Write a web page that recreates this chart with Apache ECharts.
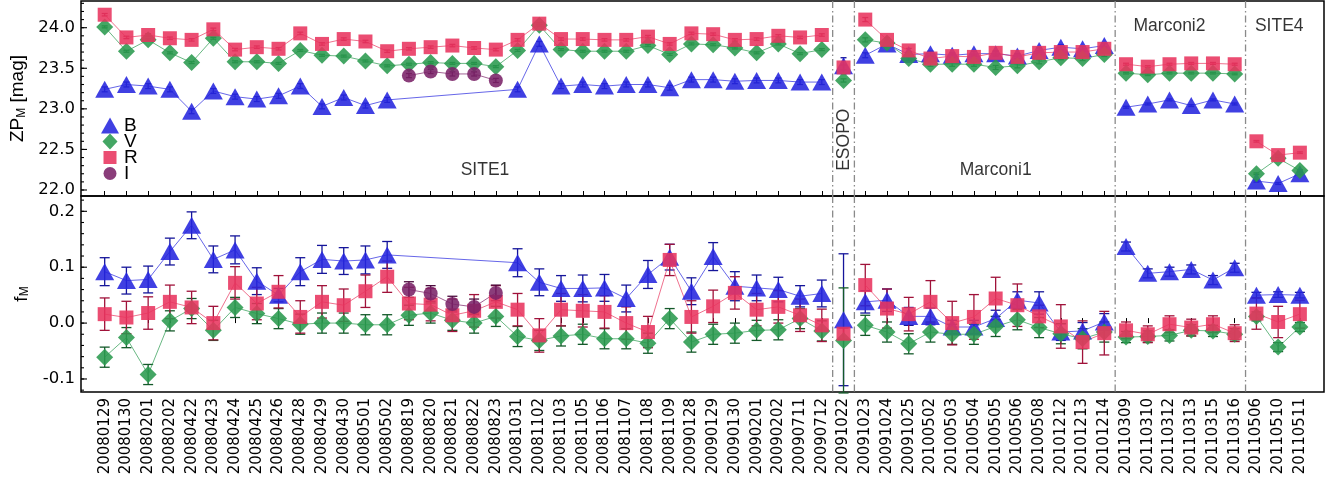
<!DOCTYPE html>
<html>
<head>
<meta charset="utf-8">
<script src="https://cdn.jsdelivr.net/npm/echarts@6.0.0/dist/echarts.min.js"></script>
<style>
html,body{margin:0;padding:0;background:#fff;}
#chart{width:1336px;height:485px;}
</style>
</head>
<body>
<div id="chart"></div>
<script>
// observing nights, one per column
const dates = ['20080129','20080130','20080201','20080202','20080422','20080423','20080424','20080425','20080426','20080428',
  '20080429','20080430','20080501','20080502','20080819','20080820','20080821','20080822','20080823','20081031',
  '20081102','20081103','20081105','20081106','20081107','20081108','20081109','20090128','20090129','20090130',
  '20090201','20090202','20090711','20090712','20091022','20091023','20091024','20091025','20100502','20100503',
  '20100504','20100505','20100506','20100508','20101212','20101213','20101214','20110309','20110310','20110312',
  '20110313','20110315','20110316','20110506','20110510','20110511'];
// first/last column of each site
const segments = [[0,33],[34,34],[35,46],[47,52],[53,55]];
const zpTicks = [22.0,22.5,23.0,23.5,24.0];
const fTicks = [-0.1,0.0,0.1,0.2];
const nulls = n => new Array(n).fill(null);

// ZP_M [mag]
const zpB = [23.24,23.30,23.28,23.24,22.97,23.22,23.15,23.12,23.16,23.28,23.03,23.14,23.04,23.11,null,null,null,null,null,
  23.24,23.80,23.28,23.30,23.28,23.30,23.30,23.26,23.36,23.36,23.34,23.35,23.35,23.33,23.33,
  23.53,
  23.66,23.80,23.67,23.68,23.66,23.68,23.68,23.65,23.72,23.76,23.74,23.78,
  23.02,23.06,23.11,23.04,23.11,23.06,
  22.11,22.08,22.20];
const zpBErr = [0.03,0.03,0.03,0.03,0.03,0.03,0.03,0.03,0.03,0.03,0.03,0.03,0.03,0.03,null,null,null,null,null,
  0.03,0.03,0.03,0.03,0.03,0.03,0.03,0.03,0.03,0.03,0.03,0.03,0.03,0.03,0.03,
  0.10,
  0.03,0.03,0.03,0.03,0.03,0.03,0.03,0.03,0.03,0.03,0.03,0.03,
  0.012,0.012,0.012,0.012,0.012,0.012,
  0.012,0.012,0.012];
const zpV = [24.01,23.71,23.85,23.69,23.57,23.87,23.58,23.58,23.56,23.72,23.66,23.65,23.59,23.53,23.55,23.57,23.56,23.56,23.52,
  23.72,24.03,23.73,23.71,23.71,23.71,23.78,23.67,23.80,23.79,23.75,23.69,23.80,23.68,23.73,
  23.35,
  23.85,23.81,23.62,23.55,23.55,23.55,23.51,23.53,23.58,23.63,23.62,23.67,
  23.44,23.42,23.44,23.44,23.44,23.43,
  22.20,22.39,22.24];
const zpVErr = [0.012,0.012,0.012,0.012,0.012,0.012,0.012,0.012,0.012,0.012,0.012,0.012,0.012,0.012,0.012,0.012,0.012,0.012,0.012,
  0.012,0.012,0.012,0.012,0.012,0.012,0.012,0.012,0.012,0.012,0.012,0.012,0.012,0.012,0.012,
  0.02,
  0.025,0.025,0.025,0.025,0.025,0.025,0.025,0.025,0.025,0.025,0.025,0.025,
  0.01,0.01,0.01,0.01,0.01,0.01,
  0.01,0.01,0.01];
const zpR = [24.16,23.88,23.91,23.87,23.85,23.98,23.73,23.76,23.74,23.93,23.80,23.86,23.83,23.71,23.74,23.76,23.78,23.75,23.73,
  23.85,24.05,23.86,23.86,23.85,23.85,23.89,23.80,23.93,23.92,23.85,23.86,23.90,23.88,23.91,
  23.51,
  24.10,23.85,23.72,23.62,23.65,23.64,23.69,23.64,23.69,23.70,23.70,23.74,
  23.55,23.52,23.55,23.56,23.56,23.55,
  22.60,22.43,22.46];
const zpRErr = [0.015,0.015,0.015,0.015,0.015,0.015,0.015,0.015,0.015,0.015,0.015,0.015,0.015,0.015,0.015,0.015,0.015,0.015,0.015,
  0.015,0.015,0.015,0.015,0.015,0.015,0.015,0.015,0.015,0.015,0.015,0.015,0.015,0.015,0.015,
  0.03,
  0.025,0.025,0.025,0.025,0.025,0.025,0.025,0.025,0.025,0.025,0.025,0.025,
  0.012,0.012,0.012,0.012,0.012,0.012,
  0.01,0.01,0.01];
const zpI = [...nulls(14), 23.41,23.46,23.43,23.43,23.35, ...nulls(37)];
const zpIErr = [...nulls(14), 0.025,0.025,0.025,0.025,0.025, ...nulls(37)];

// f_M
const fB = [0.092,0.076,0.078,0.128,0.175,0.114,0.131,0.075,0.050,0.092,0.114,0.111,0.113,0.122,null,null,null,null,null,
  0.108,0.073,0.062,0.062,0.063,0.044,0.087,0.118,0.057,0.119,0.066,0.063,0.060,0.048,0.053,
  0.006,
  0.038,0.041,0.012,0.012,-0.007,-0.007,0.008,0.041,0.036,-0.016,-0.014,0.002,
  0.137,0.089,0.092,0.096,0.077,0.099,
  0.050,0.051,0.050];
const fBErr = [0.025,0.024,0.024,0.024,0.024,0.024,0.025,0.024,0.012,0.025,0.025,0.024,0.025,0.024,null,null,null,null,null,
  0.025,0.024,0.023,0.024,0.024,0.024,0.025,0.023,0.024,0.025,0.026,0.023,0.022,0.019,0.024,
  0.118,
  0.020,0.020,0.016,0.015,0.012,0.012,0.015,0.015,0.020,0.015,0.015,0.015,
  0.008,0.008,0.008,0.008,0.008,0.008,
  0.005,0.005,0.005];
const fV = [-0.061,-0.026,-0.092,0.004,0.026,-0.013,0.028,0.017,0.008,-0.002,0.000,0.000,-0.003,-0.003,0.014,0.018,0.005,0.000,0.012,
  -0.024,-0.031,-0.023,-0.020,-0.028,-0.028,-0.036,0.008,-0.034,-0.020,-0.018,-0.013,-0.012,0.008,-0.014,
  -0.031,
  -0.004,-0.016,-0.037,-0.016,-0.020,-0.020,-0.006,0.006,-0.008,-0.019,-0.028,-0.016,
  -0.025,-0.024,-0.022,-0.013,-0.014,-0.020,
  0.012,-0.043,-0.007];
const fVErr = [0.018,0.018,0.018,0.018,0.018,0.018,0.018,0.018,0.018,0.018,0.018,0.018,0.018,0.018,0.018,0.018,0.018,0.018,0.018,
  0.018,0.018,0.018,0.018,0.018,0.018,0.018,0.018,0.018,0.018,0.018,0.018,0.018,0.018,0.018,
  0.094,
  0.018,0.018,0.018,0.018,0.018,0.018,0.018,0.018,0.018,0.018,0.018,0.018,
  0.010,0.010,0.010,0.010,0.010,0.010,
  0.008,0.008,0.008];
const fR = [0.016,0.010,0.018,0.038,0.028,0.000,0.072,0.035,0.056,0.011,0.038,0.032,0.057,0.083,0.035,0.033,0.014,0.022,0.038,
  0.024,-0.022,0.024,0.022,0.020,0.000,-0.016,0.113,0.011,0.030,0.054,0.024,0.029,0.014,-0.004,
  -0.019,
  0.068,0.026,0.016,0.038,0.000,0.011,0.044,0.032,0.012,-0.006,-0.034,-0.018,
  -0.013,-0.020,-0.002,-0.008,-0.002,-0.018,
  0.017,0.002,0.016];
const fRErr = [0.029,0.029,0.029,0.030,0.029,0.030,0.029,0.029,0.029,0.029,0.029,0.029,0.029,0.028,0.029,0.029,0.029,0.029,0.029,
  0.029,0.030,0.029,0.029,0.029,0.029,0.028,0.028,0.029,0.029,0.029,0.029,0.029,0.029,0.029,
  0.010,
  0.037,0.035,0.030,0.038,0.039,0.040,0.038,0.038,0.020,0.039,0.038,0.039,
  0.015,0.015,0.015,0.015,0.015,0.015,
  0.028,0.028,0.025];
const fI = [...nulls(14), 0.060,0.053,0.034,0.029,0.054, ...nulls(37)];
const fIErr = [...nulls(14), 0.014,0.014,0.014,0.014,0.014, ...nulls(37)];

const regionLabels = [
  {text:'SITE1', x:17.5, y:22.24},
  {text:'ESOPO', x:34.05, y:22.62, rot:90},
  {text:'Marconi1', x:41.0, y:22.24},
  {text:'Marconi2', x:49.0, y:24.02},
  {text:'SITE4', x:54.05, y:24.02}
];

const bands = [
  {name:'B', zp:zpB, zpErr:zpBErr, f:fB, fErr:fBErr, symbol:'triangle', size:[19,17], color:'#2525de', dark:'#15159a',
    icon:'triangle'},
  {name:'V', zp:zpV, zpErr:zpVErr, f:fV, fErr:fVErr, symbol:'diamond', size:[17,17], color:'#2a9a4e', dark:'#145a2a',
    icon:'path://M0,0M18,16M9,-0.5L17,8L9,16.5L1,8Z'},
  {name:'R', zp:zpR, zpErr:zpRErr, f:fR, fErr:fRErr, symbol:'rect', size:[14,14], color:'#e8345e', dark:'#a0123a',
    icon:'path://M0,0M18,16M2.5,1.5H15.5V14.5H2.5Z'},
  {name:'I', zp:zpI, zpErr:zpIErr, f:fI, fErr:fIErr, symbol:'circle', size:14, color:'#7a2268', dark:'#4c0c3e',
    icon:'path://M0,0M18,16M15.5,8A6.5,6.5,0,1,1,2.5,8A6.5,6.5,0,1,1,15.5,8Z'}
];

const FONT = 'DejaVu Sans';
const xMin = -1.09, xMax = 56.11;
const cols = dates.map((d, i) => i);
const separators = segments.slice(0, -1).map(s => s[1] + 0.5);

function errRender(color, cap){
  return function(params, api){
    const x = api.value(0), y = api.value(1), e = api.value(2);
    const p1 = api.coord([x, y + e]), p2 = api.coord([x, y - e]);
    const style = {stroke: color, lineWidth: 1.3, fill: null};
    return {type:'group', children:[
      {type:'line', shape:{x1:p1[0], y1:p1[1], x2:p2[0], y2:p2[1]}, style},
      {type:'line', shape:{x1:p1[0]-cap, y1:p1[1], x2:p1[0]+cap, y2:p1[1]}, style},
      {type:'line', shape:{x1:p2[0]-cap, y1:p2[1], x2:p2[0]+cap, y2:p2[1]}, style}
    ]};
  };
}

// inward y ticks drawn against the left frame
function yTicks(xi, yi, values, len){
  return {
    type:'custom', xAxisIndex:xi, yAxisIndex:yi, silent:true, z:6, animation:false,
    data: values.map(v => [xMin, v]), encode:{x:0, y:1},
    renderItem: (params, api) => {
      const p = api.coord([api.value(0), api.value(1)]);
      const cs = params.coordSys;
      return {type:'line', shape:{x1:cs.x, y1:p[1], x2:cs.x + len, y2:p[1]}, style:{stroke:'#000', lineWidth:1.1}};
    }
  };
}

function steps(lo, hi, step){
  const out = [];
  for (let v = lo; v <= hi + 1e-9; v += step) out.push(+v.toFixed(3));
  return out;
}

const series = [];
// dash-dot site separators, both panels
[[0, 0, 23], [1, 1, 0.05]].forEach(([xi, yi, mid]) => {
  series.push({
    type:'custom', xAxisIndex:xi, yAxisIndex:yi, silent:true, z:1, animation:false,
    data: separators.map(s => [s, mid]), encode:{x:0, y:1},
    renderItem: (params, api) => {
      const x = api.coord([api.value(0), api.value(1)])[0];
      const cs = params.coordSys;
      return {type:'line', shape:{x1:x, y1:cs.y, x2:x, y2:cs.y + cs.height},
        style:{stroke:'#8a8a8a', lineWidth:1.3, lineDash:[7,3,1.5,3]}};
    }
  });
});

bands.forEach(b => {
  [[b.zp, b.zpErr, 0, 3], [b.f, b.fErr, 1, 5]].forEach(([vals, errs, gi, cap]) => {
    segments.forEach(([a, e]) => {
      const data = [];
      for (let i = a; i <= e; i++) if (vals[i] != null) data.push([i, vals[i]]);
      if (!data.length) return;
      series.push({
        type:'line', name:b.name, xAxisIndex:gi, yAxisIndex:gi, data,
        symbol:b.symbol, symbolSize:b.size, showSymbol:true,
        itemStyle:{color:b.color, opacity:0.88},
        lineStyle:{color:b.color, width:1, opacity:0.7},
        emphasis:{disabled:true}, animation:false, z:3
      });
    });
    const ed = [];
    vals.forEach((v, i) => { if (v != null && errs[i] != null) ed.push([i, v, errs[i]]); });
    series.push({
      type:'custom', name:b.name + ' err', xAxisIndex:gi, yAxisIndex:gi, data:ed,
      encode:{x:0, y:1}, renderItem:errRender(b.dark, cap), silent:true, animation:false, z:3
    });
  });
});

series.push(yTicks(0, 0, zpTicks, 6), yTicks(0, 0, steps(22.0, 24.3, 0.1), 3));
series.push(yTicks(1, 1, fTicks, 6), yTicks(1, 1, steps(-0.12, 0.22, 0.02), 3));

series.push({
  type:'scatter', xAxisIndex:0, yAxisIndex:0, symbolSize:1, silent:true, z:5, animation:false,
  itemStyle:{color:'transparent'},
  data: regionLabels.map(r => ({name:r.text, value:[r.x, r.y], label:{rotate:r.rot || 0}})),
  label:{show:true, position:'inside', formatter:'{b}', fontSize:17.5, color:'#000', fontFamily:'Liberation Sans'}
});

function yAxis(gi, min, max, ticks, name){
  return {
    gridIndex:gi, type:'value', position:'left', min, max,
    axisLine:{show:false}, splitLine:{show:false}, axisTick:{show:false},
    axisLabel:{customValues:ticks, formatter:v => v.toFixed(1), fontSize:16.5, color:'#000', margin:6, fontFamily:FONT},
    name, nameLocation:'middle', nameGap:50,
    nameTextStyle:{color:'#000', rich:{
      a:{fontSize:19, fontFamily:'Liberation Sans', color:'#000'},
      s:{fontSize:12, fontFamily:'Liberation Sans', color:'#000', verticalAlign:'bottom', padding:[6,0,0,0]}
    }}
  };
}

const xBase = {
  type:'value', min:xMin, max:xMax, axisLine:{show:false}, splitLine:{show:false},
  axisTick:{inside:true, length:5, customValues:cols, lineStyle:{color:'#000', width:1}}
};

const option = {
  backgroundColor:'#fff',
  animation:false,
  textStyle:{fontFamily:FONT},
  grid:[
    {left:81, top:1, width:1243, height:195, show:true, borderColor:'#000', borderWidth:1.5},
    {left:81, top:196, width:1243, height:196, show:true, borderColor:'#000', borderWidth:1.5}
  ],
  legend:{
    data: bands.map(b => ({name:b.name, icon:b.icon})),
    orient:'vertical', left:96, top:111, itemWidth:18, itemHeight:16, itemGap:-3,
    selectedMode:false,
    textStyle:{fontSize:19, color:'#000', fontFamily:'Liberation Sans'}
  },
  xAxis:[
    Object.assign({gridIndex:0, axisLabel:{show:false}}, xBase),
    Object.assign({gridIndex:1, axisLabel:{customValues:cols, formatter:v => dates[Math.round(v)] || '',
      rotate:90, fontSize:15, color:'#000', margin:6, fontFamily:FONT}}, xBase)
  ],
  yAxis:[
    yAxis(0, 21.926, 24.329, zpTicks, '{a|ZP}{s|M}{a| [mag]}'),
    yAxis(1, -0.1233, 0.2274, fTicks, '{a|f}{s|M}')
  ],
  series
};

const chart = echarts.init(document.getElementById('chart'));
chart.setOption(option);
window.addEventListener('resize', () => chart.resize());
</script>
</body>
</html>
